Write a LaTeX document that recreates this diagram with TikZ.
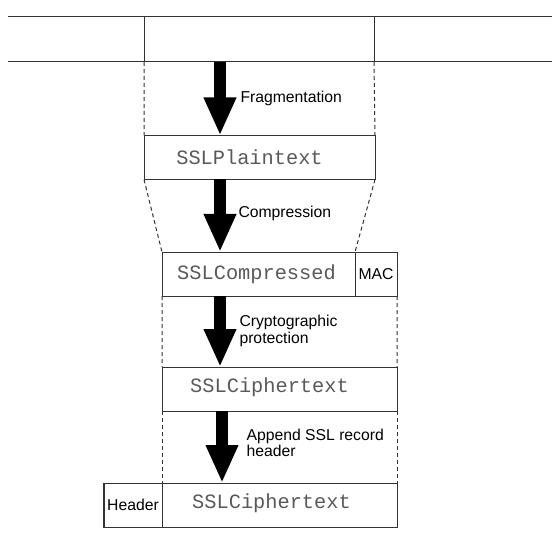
\documentclass[tikz,border=0pt]{standalone}
\usepackage{fontspec}
\setmainfont{Liberation Sans}
\setmonofont{Liberation Mono}
\usetikzlibrary{positioning,arrows.meta}

\begin{document}
\begin{tikzpicture}[x=1bp,y=-1bp,line width=1bp,
    recbox/.style={draw=black!80,minimum height=44bp,inner sep=0,outer sep=0,
      font=\fontsize{15.8}{16.6}\selectfont},
    mono/.style={font=\fontsize{20.4}{22}\selectfont\ttfamily,text=black!65,inner sep=0},
    lbl/.style={font=\fontsize{15.8}{16.6}\selectfont,anchor=west,align=left,inner sep=0},
    fatarrow/.style={line width=12bp,-{Triangle[width=30bp,length=38bp]}},
    guide/.style={draw=black!80,dash pattern=on 4bp off 3bp}]

  \useasboundingbox (0,0) rectangle (552,537);

  % application data band
  \coordinate (tl) at (8,17);
  \coordinate (tr) at (552,17);
  \coordinate (bl) at (8,62);
  \coordinate (br) at (552,62);
  \node[minimum width=230bp,minimum height=45bp,inner sep=0,outer sep=0] (data) at (259,39.5) {};
  \draw[black!80] (tl) -- (tr) (bl) -- (br);
  \draw[black!80] (data.north west) -- (data.south west)
                  (data.north east) -- (data.south east);

  % records
  \node[recbox,minimum width=231bp] (plain) at (259.5,157.5) {};
  \node[recbox,minimum width=193bp] (comp)  at (258.5,274) {};
  \node[recbox,minimum width=42bp,right=0bp of comp] (mac) {MAC};
  \node[recbox,minimum width=235bp] (ciph)  at (279.5,389) {};
  \node[recbox,minimum width=235bp] (rec)   at (279.5,505) {};
  \node[recbox,minimum width=58bp,left=0bp of rec] (hdr) {Header};

  \node[mono] (plaintxt) at ([xshift=-10bp]plain.center) {SSLPlaintext};
  \node[mono] (comptxt)  at ([xshift=-2bp]comp.center) {SSLCompressed};
  \node[mono] (ciphtxt)  at ([xshift=-10bp,yshift=1.5bp]ciph.center) {SSLCiphertext};
  \node[mono] (rectxt)   at ([xshift=-8bp,yshift=1.5bp]rec.center) {SSLCiphertext};

  % dashed guides
  \draw[guide] (data.south west) -- (plain.north west);
  \draw[guide] (data.south east) -- (plain.north east);
  \draw[guide] (plain.south west) -- (comp.north west);
  \draw[guide] (plain.south east) -- (comp.north east);
  \draw[guide] (comp.south west) -- (ciph.north west);
  \draw[guide] (mac.south east) -- (ciph.north east);
  \draw[guide] (ciph.south west) -- (rec.north west);
  \draw[guide] (ciph.south east) -- (rec.north east);

  % processing steps
  \coordinate (ax) at (220,0);
  \coordinate (bx) at (222,0);
  \draw[fatarrow] (data.south -| ax) -- (plain.north -| ax);
  \draw[fatarrow] (plain.south -| ax) -- (comp.north -| ax);
  \draw[fatarrow] (comp.south -| ax) -- (ciph.north -| ax);
  \draw[fatarrow] (ciph.south -| bx) -- (rec.north -| bx);

  \node[lbl] (fraglbl)  at (240,98)  {Fragmentation};
  \node[lbl] (complbl)  at (238,213) {Compression};
  \node[lbl] (cryptlbl) at (239,331) {Cryptographic\\protection};
  \node[lbl] (hdrlbl)   at (246,443) {Append SSL record\\header};

\end{tikzpicture}
\end{document}
